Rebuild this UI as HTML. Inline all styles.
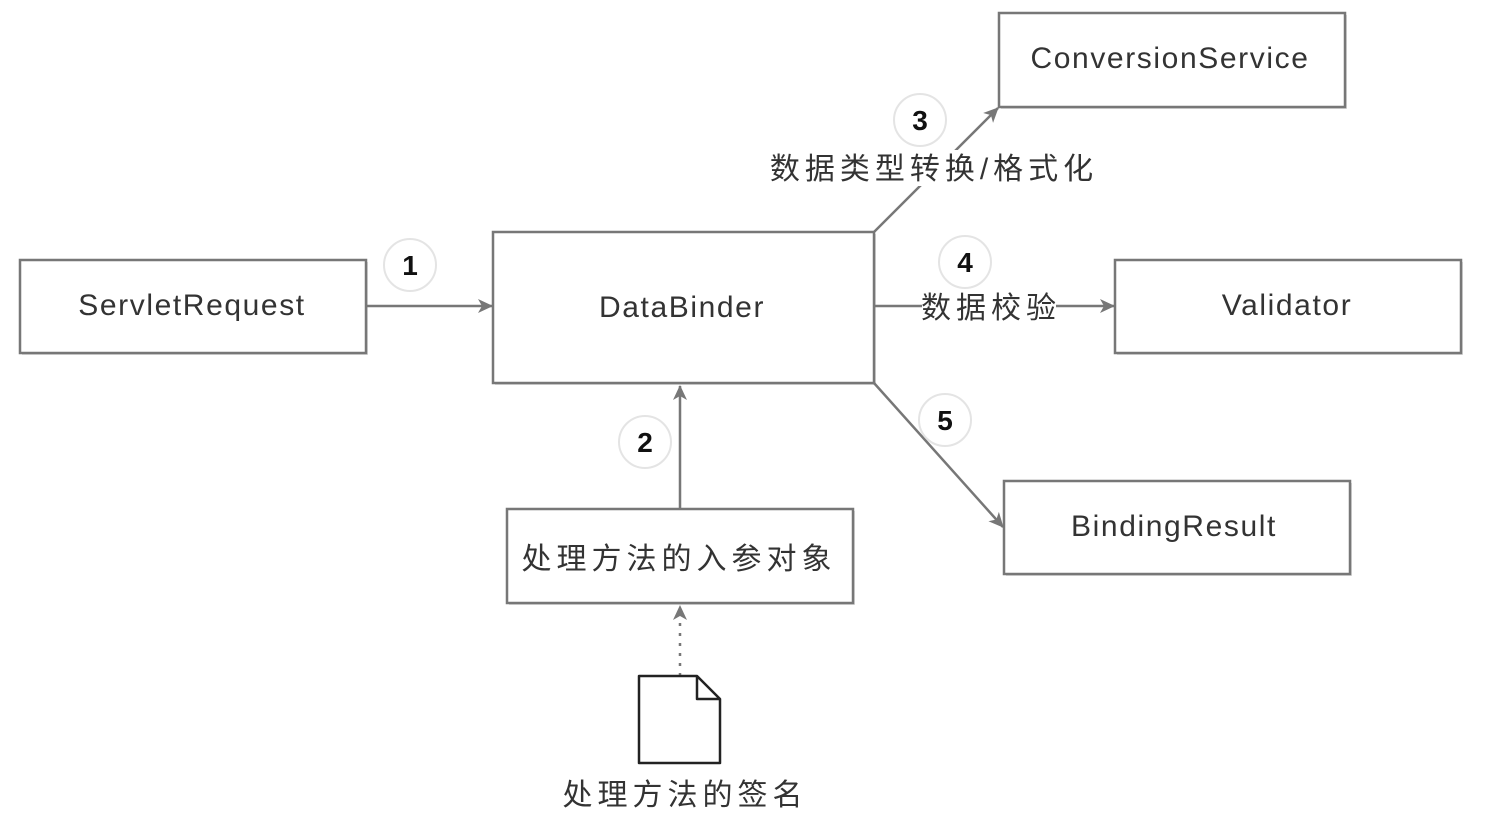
<!DOCTYPE html>
<html><head><meta charset="utf-8"><style>
html,body{margin:0;padding:0;background:#fff;}
svg{display:block;}
text{font-family:"Liberation Sans","Noto Sans CJK SC",sans-serif;fill:#333;}
.l{font-size:30px;letter-spacing:1.6px;}
.c{font-size:30px;letter-spacing:5px;}
</style></head><body>
<svg width="1506" height="828" viewBox="0 0 1506 828" xmlns="http://www.w3.org/2000/svg">
<defs>
<marker id="a" markerWidth="16" markerHeight="16" refX="14" refY="8" orient="auto" markerUnits="userSpaceOnUse">
<path d="M0,1 L15,8 L0,15 L4,8 Z" fill="#777"/></marker>
</defs>
<g fill="#fff" stroke="#777" stroke-width="2.5">
<rect x="22" y="262" width="346" height="93" fill="#ddd" stroke="none"/>
<rect x="20" y="260" width="346" height="93"/>
<rect x="495" y="234" width="381" height="151" fill="#ddd" stroke="none"/>
<rect x="493" y="232" width="381" height="151"/>
<rect x="1001" y="15" width="346" height="94" fill="#ddd" stroke="none"/>
<rect x="999" y="13" width="346" height="94"/>
<rect x="1117" y="262" width="346" height="93" fill="#ddd" stroke="none"/>
<rect x="1115" y="260" width="346" height="93"/>
<rect x="1006" y="483" width="346" height="93" fill="#ddd" stroke="none"/>
<rect x="1004" y="481" width="346" height="93"/>
<rect x="509" y="511" width="346" height="94" fill="#ddd" stroke="none"/>
<rect x="507" y="509" width="346" height="94"/>
</g>
<g stroke="#777" stroke-width="2.5" fill="none">
<line x1="366" y1="306" x2="492" y2="306" marker-end="url(#a)"/>
<line x1="680" y1="509" x2="680" y2="386" marker-end="url(#a)"/>
<line x1="874" y1="232" x2="998" y2="108" marker-end="url(#a)"/>
<line x1="874" y1="306" x2="1114" y2="306" marker-end="url(#a)"/>
<line x1="874" y1="383" x2="1003" y2="527" marker-end="url(#a)"/>
<line x1="680" y1="676" x2="680" y2="606" stroke-dasharray="3,7" marker-end="url(#a)"/>
</g>
<path d="M639,676 L697,676 L720,699 L720,763 L639,763 Z M697,676 L697,699 L720,699" fill="#fff" stroke="#222" stroke-width="2.5" stroke-linejoin="round"/>
<g fill="#fff" stroke="#e4e4e4" stroke-width="2">
<circle cx="410" cy="265" r="26"/>
<circle cx="645" cy="442" r="26"/>
<circle cx="920" cy="120" r="26"/>
<circle cx="965" cy="262" r="26"/>
<circle cx="945" cy="420" r="26"/>
</g>
<g font-size="28" font-weight="bold" text-anchor="middle">
<text x="410" y="275" style="fill:#111">1</text>
<text x="645" y="452" style="fill:#111">2</text>
<text x="920" y="130" style="fill:#111">3</text>
<text x="965" y="272" style="fill:#111">4</text>
<text x="945" y="430" style="fill:#111">5</text>
</g>
<rect x="765" y="150" width="335" height="36" fill="#fff"/>
<rect x="922" y="292" width="134" height="30" fill="#fff"/>
<g text-anchor="middle">
<text class="l" x="192" y="315">ServletRequest</text>
<text class="l" x="682" y="317">DataBinder</text>
<text class="l" x="1170" y="68">ConversionService</text>
<text class="l" x="1287" y="315">Validator</text>
<text class="l" x="1174" y="536">BindingResult</text>
<text class="c" x="679" y="569">处理方法的入参对象</text>
<text class="c" x="934" y="179">数据类型转换/格式化</text>
<text class="c" x="991" y="318">数据校验</text>
<text class="c" x="685" y="805">处理方法的签名</text>
</g>
</svg>
</body></html>
